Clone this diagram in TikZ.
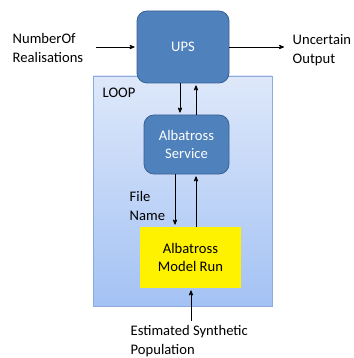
\documentclass[tikz,border=0pt]{standalone}
\usepackage{fontspec}
\setmainfont{Carlito}
\usetikzlibrary{positioning}
\usetikzlibrary{arrows}
\definecolor{upsblue}{RGB}{79,129,189}
\definecolor{upsedge}{RGB}{58,96,146}
\definecolor{looptop}{RGB}{222,232,250}
\definecolor{loopbot}{RGB}{163,194,244}
\definecolor{loopedge}{RGB}{140,170,220}
\tikzset{
	every node/.style={font=\fontsize{14.6}{18.5}\selectfont},
	every path/.style={line width=0.8pt},
	bluebox/.style={draw=upsedge,fill=upsblue,rounded corners=10pt,text=white,align=center},
	flow/.style={->,>=stealth',shorten >=2pt},
}

\begin{document}
\begin{tikzpicture}[x=1pt,y=-1pt]
			\useasboundingbox (0,0) rectangle (353,358);
			
			% loop frame.....................
			\node [draw=loopedge,top color=looptop,bottom color=loopbot,minimum width=179pt,minimum height=230pt] (loop) at (182.5,191) {};
			\node [anchor=west] (looplabel) at (99,93) {LOOP};
			
			% UPS box........................
			\node [bluebox,minimum width=92pt,minimum height=72pt] (ups) at (183,47) {UPS};
			
			% Albatross service..............
			\node [bluebox,minimum width=85pt,minimum height=59pt] (svc) at (186.5,144.5) {Albatross\\Service};
			
			% model run......................
			\node [fill=yellow,minimum width=101pt,minimum height=61pt,align=center] (run) at (190.5,257.5) {Albatross\\Model Run};
			
			% inputs and outputs.............
			\node [anchor=west,align=left] (nreal) at (9,48) {NumberOf\\Realisations};
			\node [anchor=west,align=left] (unc) at (289,50) {Uncertain\\Output};
			\node [anchor=west,align=left] (fname) at (126,206) {File\\Name};
			\node [anchor=north west,align=left] (pop) at (127,322) {Estimated Synthetic\\Population};
			
			% arrow ends.....................
			\coordinate (nrealend) at (96,47);
			\coordinate (uncend) at (286,47);
			\coordinate (popend) at (191,321);
			
			% connectors.....................
			\draw [flow] (nrealend) -- (ups.west |- nrealend);
			\draw [flow] (ups.east |- uncend) -- (uncend);
			\draw [flow] ([xshift=-3pt]ups.south) -- ([xshift=-3pt]ups.south |- svc.north);
			\draw [flow] ([xshift=9.5pt]svc.north) -- ([xshift=9.5pt]svc.north |- ups.south);
			\draw [flow] ([xshift=-11.5pt]svc.south) -- ([xshift=-11.5pt]svc.south |- run.north);
			\draw [flow] ([xshift=5.5pt]run.north) -- ([xshift=5.5pt]run.north |- svc.south);
			\draw [flow] (popend) -- (popend |- run.south);
		\end{tikzpicture}
\end{document}
